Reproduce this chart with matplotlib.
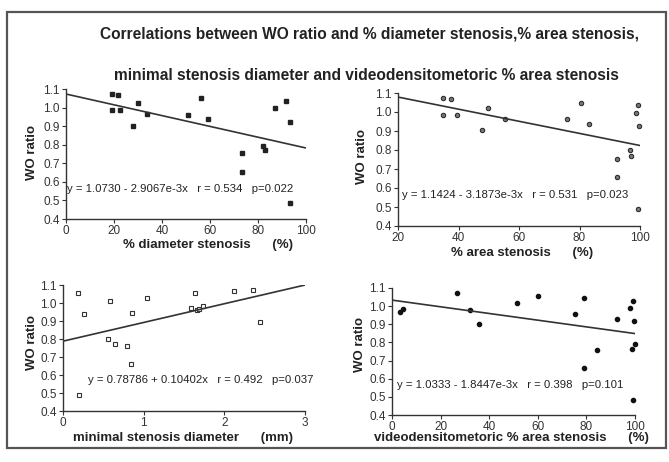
import numpy as np
import matplotlib
matplotlib.use("Agg")
import matplotlib.pyplot as plt
from matplotlib.patches import Rectangle

plt.rcParams['font.family'] = ['Liberation Sans', 'DejaVu Sans']

W, H = 669, 462

# ---- data ----
# WO ratio vs % diameter stenosis
diam_x = [19.3, 21.8, 19.3, 22.6, 27.9, 30.0, 33.9, 50.8, 56.4, 59.0,
          73.2, 73.2, 82.1, 82.8, 87.1, 91.8, 93.3, 93.3]
diam_y = [1.075, 1.067, 0.985, 0.985, 0.901, 1.025, 0.964, 0.960, 1.053, 0.939,
          0.757, 0.655, 0.795, 0.771, 0.996, 1.035, 0.925, 0.488]
diam_fit = (1.0730, -2.9067e-3)
diam_txt = "y = 1.0730 - 2.9067e-3x   r = 0.534   p=0.022"

# WO ratio vs % area stenosis
area_x = [34.8, 37.5, 34.8, 39.4, 47.9, 49.8, 55.3, 75.8, 80.5, 83.0,
          92.5, 92.5, 99.4, 98.7, 99.7, 96.7, 97.0, 99.4]
area_y = [1.075, 1.067, 0.984, 0.984, 0.904, 1.021, 0.963, 0.962, 1.046, 0.938,
          0.754, 0.656, 1.035, 0.996, 0.928, 0.798, 0.767, 0.488]
area_fit = (1.1424, -3.1873e-3)
area_txt = "y = 1.1424 - 3.1873e-3x   r = 0.531   p=0.023"

# WO ratio vs minimal stenosis diameter (mm)
msd_x = [0.19, 0.26, 0.58, 0.56, 0.64, 0.79, 0.84, 0.86, 1.04, 1.59,
         1.64, 1.66, 1.69, 1.74, 2.12, 2.35, 2.44, 0.20]
msd_y = [1.054, 0.939, 1.011, 0.802, 0.772, 0.761, 0.659, 0.946, 1.026, 0.970,
         1.057, 0.960, 0.967, 0.983, 1.067, 1.072, 0.896, 0.487]
msd_fit = (0.78786, 0.10402)
msd_txt = "y = 0.78786 + 0.10402x   r = 0.492   p=0.037"

# WO ratio vs videodensitometric % area stenosis
vd_x = [3.3, 4.7, 26.6, 32.1, 35.8, 51.6, 60.0, 75.3, 79.0, 79.0,
        84.4, 92.5, 99.1, 97.9, 99.6, 100.0, 98.9, 99.1]
vd_y = [0.965, 0.985, 1.072, 0.981, 0.902, 1.019, 1.056, 0.956, 1.043, 0.657,
        0.757, 0.930, 1.031, 0.991, 0.920, 0.793, 0.764, 0.485]
vd_fit = (1.0333, -1.8447e-3)
vd_txt = "y = 1.0333 - 1.8447e-3x   r = 0.398   p=0.101"

y_ticks = [0.4, 0.5, 0.6, 0.7, 0.8, 0.9, 1.0, 1.1]


def box(l, t, r, b):
    # pixel box -> figure fraction [left, bottom, width, height]
    return [l / W, 1 - b / H, (r - l) / W, (b - t) / H]


def fpos(x, y):
    return x / W, 1 - y / H


fig = plt.figure(figsize=(W / 100, H / 100), dpi=100)
fig.patch.set_facecolor('white')

# frame around everything
fig.patches.append(Rectangle((7 / W, 1 - 448 / H), 659 / W, 436 / H,
                             transform=fig.transFigure, fill=False,
                             edgecolor='#555555', linewidth=1.6))

fig.text(*fpos(369, 34), "Correlations between WO ratio and % diameter stenosis,% area stenosis,",
         ha='center', va='center', fontsize=11.2, fontweight='bold', color='#222222')
fig.text(*fpos(366, 76), "minimal stenosis diameter and videodensitometoric % area stenosis",
         ha='center', va='center', fontsize=11.2, fontweight='bold', color='#222222')


def panel(rect, xs, ys, fit, txt, xlim, xticks, style, txt_pos):
    ax = fig.add_axes(rect)
    ax.set_xlim(*xlim)
    ax.set_ylim(0.4, 1.1)
    for s in ['top', 'right']:
        ax.spines[s].set_visible(False)
    for s in ['left', 'bottom']:
        ax.spines[s].set_color('#333333')
        ax.spines[s].set_linewidth(1.0)
    ax.set_xticks(xticks)
    ax.set_yticks(y_ticks)
    ax.set_yticklabels([f"{v:.1f}" for v in y_ticks])
    ax.tick_params(direction='out', length=3, width=0.8, labelsize=8.5,
                   colors='#333333', pad=1.5)
    ax.plot(xs, ys, linestyle='none', clip_on=False, **style)
    xx = np.array(xlim, dtype=float)
    ax.plot(xx, fit[0] + fit[1] * xx, color='#333333', linewidth=1.2)
    ax.text(*txt_pos, txt, transform=fig.transFigure, fontsize=8.2,
            color='#222222', va='center', ha='left')
    return ax


panel(box(66, 89, 306, 219), diam_x, diam_y, diam_fit, diam_txt, (0, 100),
      [0, 20, 40, 60, 80, 100],
      dict(marker='s', markersize=2.8, color='#222222'), fpos(67, 189))
panel(box(398, 93, 640, 226), area_x, area_y, area_fit, area_txt, (20, 100),
      [20, 40, 60, 80, 100],
      dict(marker='o', markersize=3.2, markerfacecolor='#777777',
           markeredgecolor='#222222', markeredgewidth=0.7), fpos(402, 195))
panel(box(63, 285, 305, 411), msd_x, msd_y, msd_fit, msd_txt, (0, 3),
      [0, 1, 2, 3],
      dict(marker='s', markersize=3.4, markerfacecolor='white',
           markeredgecolor='#333333', markeredgewidth=0.8), fpos(88, 380))
panel(box(392, 288, 635, 415), vd_x, vd_y, vd_fit, vd_txt, (0, 100),
      [0, 20, 40, 60, 80, 100],
      dict(marker='o', markersize=3.0, color='#111111'), fpos(397, 385))

lab = dict(fontsize=9.5, fontweight='bold', color='#222222', ha='center', va='center')
fig.text(*fpos(208, 245), "% diameter stenosis      (%)", **lab)
fig.text(*fpos(522, 253), "% area stenosis      (%)", **lab)
fig.text(*fpos(183, 438), "minimal stenosis diameter      (mm)", **lab)
fig.text(*fpos(511, 438), "videodensitometoric % area stenosis      (%)", **lab)
for x, y in [(32, 152), (362, 157), (32, 343), (360, 345)]:
    fig.text(*fpos(x, y), "WO ratio", rotation=90, **lab)

fig.savefig("out.png", dpi=100)
